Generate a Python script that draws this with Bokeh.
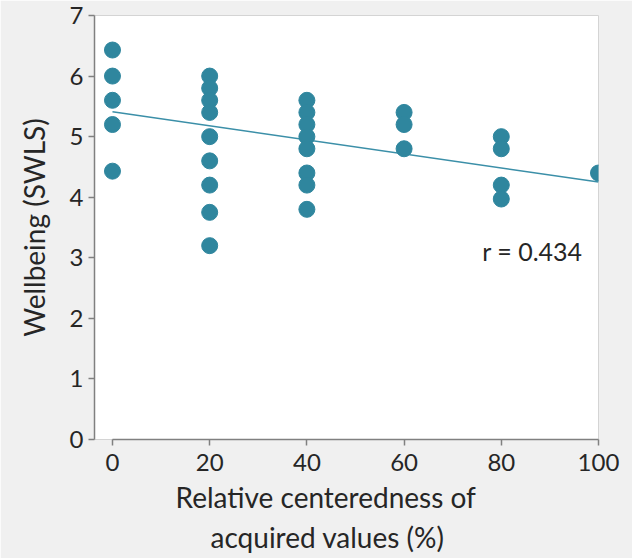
from bokeh.plotting import figure
from bokeh.models import Range1d, Label, FixedTicker, Title
from bokeh.embed import file_html
from bokeh.resources import INLINE

FONT = "Lato"

# ---- data ----
centeredness = [0, 0, 0, 0, 0,
                20, 20, 20, 20, 20, 20, 20, 20, 20,
                40, 40, 40, 40, 40, 40, 40, 40,
                60, 60, 60,
                80, 80, 80, 80,
                100]
wellbeing = [6.43, 6.0, 5.6, 5.2, 4.43,
             6.0, 5.8, 5.6, 5.4, 5.0, 4.6, 4.2, 3.75, 3.2,
             5.6, 5.4, 5.2, 5.0, 4.8, 4.4, 4.2, 3.8,
             5.4, 5.2, 4.8,
             5.0, 4.8, 4.2, 3.97,
             4.4]
fit_x = [0, 100]
fit_y = [5.41, 4.25]
x_ticks = [0, 20, 40, 60, 80, 100]
y_ticks = [0, 1, 2, 3, 4, 5, 6, 7]
r_text = "r = 0.434"
x_title_lines = ["Relative centeredness of", "acquired values (%)"]
y_title = "Wellbeing (SWLS)"

DOT = "#2f869e"
BG = "#f0f0f0"
TXT = "#262626"
AX = "#808080"

p = figure(width=632, height=558,
           x_range=Range1d(-3.7, 100), y_range=Range1d(0, 7),
           output_backend="svg", toolbar_location=None,
           min_border_left=94, min_border_right=34,
           min_border_top=15, min_border_bottom=119)

p.background_fill_color = "white"
p.border_fill_color = BG
p.outline_line_color = "#d4d4d4"
p.grid.visible = False

p.xaxis.ticker = FixedTicker(ticks=x_ticks)
p.yaxis.ticker = FixedTicker(ticks=y_ticks)
p.xaxis.bounds = (0, 100)
p.axis.minor_tick_line_color = None
p.axis.axis_line_color = AX
p.axis.axis_line_width = 1.5
p.axis.major_tick_line_color = AX
p.axis.major_tick_line_width = 1.5
p.axis.major_tick_out = 6
p.axis.major_tick_in = 0
p.axis.major_label_text_font = FONT
p.axis.major_label_text_font_size = "24px"
p.axis.major_label_text_color = TXT
p.yaxis.major_label_standoff = 5
p.xaxis.major_label_standoff = 8

p.yaxis.axis_label = y_title
p.yaxis.axis_label_text_font = FONT
p.yaxis.axis_label_text_font_size = "28px"
p.yaxis.axis_label_text_font_style = "normal"
p.yaxis.axis_label_text_color = TXT
p.yaxis.axis_label_standoff = 16

p.line(fit_x, fit_y, line_color="#3b8fa8", line_width=1.5)
p.scatter(centeredness, wellbeing, size=16, fill_color=DOT, line_color=DOT)

p.add_layout(Label(x=76.1, y=3.12, text=r_text, text_font=FONT,
                   text_font_size="25px", text_color=TXT,
                   text_align="left", text_baseline="alphabetic"))

t1 = Title(text=x_title_lines[0], align="left", offset=81, standoff=8,
           text_font=FONT, text_font_size="28px", text_font_style="normal",
           text_color=TXT, background_fill_color=None)
t2 = Title(text=x_title_lines[1], align="left", offset=116, standoff=0,
           text_font=FONT, text_font_size="28px", text_font_style="normal",
           text_color=TXT, background_fill_color=None)
p.add_layout(t1, "below")
p.add_layout(t2, "below")

html = file_html(p, INLINE)
html = html.replace("<body>", '<body style="background-color:%s;">' % BG, 1)
open("out.html", "w").write(html)
